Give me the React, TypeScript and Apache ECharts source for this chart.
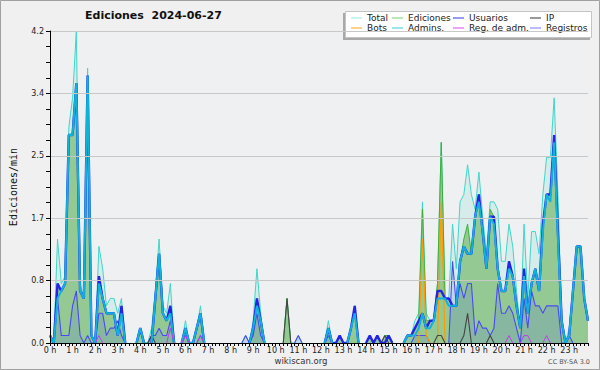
import React, { useEffect, useRef } from "react";
import * as echarts from "echarts";

const HOURS = [
  "0 h", "1 h", "2 h", "3 h", "4 h", "5 h", "6 h", "7 h", "8 h", "9 h", "10 h", "11 h",
  "12 h", "13 h", "14 h", "15 h", "16 h", "17 h", "18 h", "19 h", "20 h", "21 h", "22 h", "23 h",
];
const MINUTES = ["", ":10", ":20", ":30", ":40", ":50"];
const Y_TICKS = [0, 0.84, 1.68, 2.52, 3.36, 4.2];

// 10-minute bins, edits per minute (6 values per hour)
const TOTAL = [
  0.1, 0, 1.4, 0.8, 0.9, 2.9,
  3.3, 4.2, 0.8, 0.6, 3.7, 0.1,
  0, 1.3, 1.0, 0.5, 0.6, 0.6,
  0.4, 0.6, 0, 0, 0, 0,
  0.2, 0, 0, 0.2, 0.7, 1.4,
  0.5, 0.4, 0.8, 0, 0, 0,
  0.3, 0, 0, 0.2, 0.5, 0,
  0, 0, 0, 0, 0, 0,
  0, 0, 0, 0, 0.1, 0,
  0.3, 1.0, 0.4, 0, 0, 0,
  0, 0, 0, 0.6, 0, 0,
  0.1, 0, 0, 0, 0, 0,
  0, 0, 0.3, 0, 0, 0.1,
  0, 0, 0.2, 0.5, 0, 0,
  0, 0.1, 0, 0.1, 0, 0.1,
  0.1, 0, 0, 0, 0, 0.1,
  0.1, 0.3, 0.4, 1.9, 0.4, 0.3,
  0.3, 0.8, 2.7, 0.6, 0.6, 1.6,
  1.0, 1.9, 2.0, 2.4, 2.0, 1.8,
  2.3, 1.7, 1.2, 1.9, 1.9, 1.8,
  1.1, 1.1, 1.6, 1.3, 0.7, 0.2,
  1.6, 0.6, 1.5, 1.5, 1.2, 2.0,
  2.5, 2.5, 3.3, 2.0, 0.3, 0,
  0.2, 0.7, 1.3, 1.3, 0.6, 0.3,
];

const EDICIONES = [
  0.1, 0, 0.8, 0.7, 0.8, 2.8,
  2.8, 3.5, 0.7, 0.6, 3.6, 0.1,
  0, 0.9, 0.6, 0.4, 0.4, 0.4,
  0.1, 0.5, 0, 0, 0, 0,
  0.2, 0, 0, 0.1, 0.6, 1.2,
  0.4, 0.3, 0.5, 0, 0, 0,
  0.2, 0, 0, 0.2, 0.4, 0,
  0, 0, 0, 0, 0, 0,
  0, 0, 0, 0, 0, 0,
  0.2, 0.6, 0.3, 0, 0, 0,
  0, 0, 0, 0.6, 0, 0,
  0, 0, 0, 0, 0, 0,
  0, 0, 0.2, 0, 0, 0.1,
  0, 0, 0.2, 0.5, 0, 0,
  0, 0.1, 0, 0.1, 0, 0.1,
  0.1, 0, 0, 0, 0, 0.1,
  0.1, 0.2, 0.3, 1.8, 0.3, 0.3,
  0.3, 0.8, 2.7, 0.6, 0.6, 0.5,
  0.5, 1.1, 1.4, 1.6, 1.2, 1.7,
  2.0, 1.5, 1.0, 1.8, 1.7, 1.0,
  0.7, 0.7, 1.1, 0.9, 0.5, 0.2,
  1.0, 0.4, 0.8, 1.0, 0.7, 1.6,
  2.0, 2.0, 2.8, 1.5, 0.3, 0,
  0.1, 0.7, 1.3, 1.3, 0.6, 0.3,
];

const USUARIOS = [
  0.1, 0, 0.8, 0.7, 0.8, 2.8,
  2.8, 3.5, 0.7, 0.6, 3.6, 0.1,
  0, 0.9, 0.6, 0.4, 0.4, 0.4,
  0.1, 0.5, 0, 0, 0, 0,
  0.2, 0, 0, 0, 0.6, 1.2,
  0.4, 0.3, 0.5, 0, 0, 0,
  0.2, 0, 0, 0.2, 0.4, 0,
  0, 0, 0, 0, 0, 0,
  0, 0, 0, 0, 0, 0,
  0.2, 0.6, 0.3, 0, 0, 0,
  0, 0, 0, 0, 0, 0,
  0, 0, 0, 0, 0, 0,
  0, 0, 0.2, 0, 0, 0.1,
  0, 0, 0.2, 0.5, 0, 0,
  0, 0.1, 0, 0.1, 0, 0,
  0.1, 0, 0, 0, 0, 0.1,
  0.1, 0.2, 0.3, 0.4, 0.2, 0.3,
  0.3, 0.7, 0.7, 0.6, 0.6, 0.5,
  0.5, 1.1, 1.3, 1.2, 1.2, 1.7,
  2.0, 1.5, 1.0, 1.7, 1.7, 1.0,
  0.7, 0.7, 1.1, 0.9, 0.5, 0.2,
  1.0, 0.4, 0.8, 1.0, 0.7, 1.6,
  2.0, 2.0, 2.8, 1.5, 0.3, 0,
  0.1, 0.7, 1.3, 1.3, 0.6, 0.3,
];

const ADMINS = [
  0.1, 0, 0.6, 0.7, 0.8, 2.8,
  2.8, 3.5, 0.7, 0.6, 3.6, 0.1,
  0, 0.8, 0.6, 0.4, 0.4, 0.4,
  0.1, 0.4, 0, 0, 0, 0,
  0.2, 0, 0, 0, 0.6, 1.2,
  0.4, 0.3, 0.4, 0, 0, 0,
  0.2, 0, 0, 0.2, 0.4, 0,
  0, 0, 0, 0, 0, 0,
  0, 0, 0, 0, 0, 0,
  0.2, 0.5, 0.3, 0, 0, 0,
  0, 0, 0, 0, 0, 0,
  0, 0, 0, 0, 0, 0,
  0, 0, 0.2, 0, 0, 0,
  0, 0, 0.2, 0.4, 0, 0,
  0, 0, 0, 0, 0, 0,
  0, 0, 0, 0, 0, 0.1,
  0.1, 0.1, 0.2, 0.4, 0.2, 0.2,
  0.3, 0.6, 0.6, 0.6, 0.5, 0.5,
  0.5, 1.1, 1.3, 1.2, 1.2, 1.7,
  1.9, 1.5, 1.0, 1.7, 1.6, 1.0,
  0.7, 0.7, 1.0, 0.9, 0.5, 0.2,
  0.9, 0.4, 0.8, 1.0, 0.7, 1.5,
  2.0, 1.9, 2.7, 1.4, 0.3, 0,
  0.1, 0.7, 1.3, 1.3, 0.6, 0.3,
];

const REGISTROS = [
  0, 0, 0.6, 0.1, 0.1, 0.1,
  0.5, 0.7, 0.1, 0, 0.1, 0,
  0, 0.4, 0.4, 0.1, 0.2, 0.2,
  0.3, 0.1, 0, 0, 0, 0,
  0, 0, 0, 0.1, 0.1, 0.2,
  0.1, 0.1, 0.3, 0, 0, 0,
  0.1, 0, 0, 0, 0.1, 0,
  0, 0, 0, 0, 0, 0,
  0, 0, 0, 0, 0.1, 0,
  0.1, 0.4, 0.1, 0, 0, 0,
  0, 0, 0, 0, 0, 0,
  0.1, 0, 0, 0, 0, 0,
  0, 0, 0.1, 0, 0, 0,
  0, 0, 0, 0, 0, 0,
  0, 0, 0, 0, 0, 0,
  0, 0, 0, 0, 0, 0,
  0, 0.1, 0.1, 0.1, 0.1, 0,
  0, 0, 0, 0, 0, 1.1,
  0.5, 0.8, 0.6, 0.8, 0.8, 0.1,
  0.3, 0.2, 0.2, 0.1, 0.2, 0.8,
  0.4, 0.4, 0.5, 0.4, 0.2, 0,
  0.6, 0.2, 0.7, 0.5, 0.5, 0.4,
  0.5, 0.5, 0.5, 0.5, 0, 0,
  0.1, 0, 0, 0, 0, 0,
];

const IP = [
  0, 0, 0, 0, 0, 0,
  0, 0, 0, 0, 0, 0,
  0, 0, 0, 0, 0, 0,
  0, 0, 0, 0, 0, 0,
  0, 0, 0, 0.1, 0, 0,
  0, 0, 0, 0, 0, 0,
  0, 0, 0, 0, 0, 0,
  0, 0, 0, 0, 0, 0,
  0, 0, 0, 0, 0, 0,
  0, 0, 0, 0, 0, 0,
  0, 0, 0, 0.6, 0, 0,
  0, 0, 0, 0, 0, 0,
  0, 0, 0, 0, 0, 0,
  0, 0, 0, 0, 0, 0,
  0, 0, 0, 0, 0, 0.1,
  0, 0, 0, 0, 0, 0,
  0, 0, 0, 0, 0, 0,
  0, 0.1, 0.1, 0, 0, 0,
  0, 0, 0.1, 0.4, 0, 0,
  0, 0, 0, 0.1, 0, 0,
  0, 0, 0, 0, 0, 0,
  0, 0, 0, 0, 0, 0,
  0, 0, 0, 0, 0, 0,
  0, 0, 0, 0, 0, 0,
];

const BOTS = [
  0, 0, 0, 0, 0, 0,
  0, 0, 0, 0, 0, 0,
  0, 0, 0, 0, 0, 0,
  0, 0, 0, 0, 0, 0,
  0, 0, 0, 0, 0, 0,
  0, 0, 0, 0, 0, 0,
  0, 0, 0, 0, 0, 0,
  0, 0, 0, 0, 0, 0,
  0, 0, 0, 0, 0, 0,
  0, 0, 0, 0, 0, 0,
  0, 0, 0, 0, 0, 0,
  0, 0, 0, 0, 0, 0,
  0, 0, 0, 0, 0, 0,
  0, 0, 0, 0, 0, 0,
  0, 0, 0, 0, 0, 0,
  0, 0, 0, 0, 0, 0,
  0, 0, 0, 1.4, 0.1, 0,
  0, 0, 1.9, 0, 0, 0,
  0, 0, 0, 0, 0, 0,
  0, 0, 0, 0, 0, 0,
  0, 0, 0, 0, 0, 0,
  0, 0, 0, 0, 0, 0,
  0, 0, 0, 0, 0, 0,
  0, 0, 0, 0, 0, 0,
];

const REG_ADM = [
  0, 0, 0, 0, 0, 0,
  0, 0, 0, 0, 0, 0,
  0, 0.1, 0, 0, 0, 0,
  0, 0, 0, 0, 0, 0,
  0, 0, 0, 0, 0, 0,
  0, 0, 0.2, 0, 0, 0,
  0.1, 0, 0, 0, 0.1, 0,
  0, 0, 0, 0, 0, 0,
  0, 0, 0, 0, 0, 0,
  0, 0, 0, 0, 0, 0,
  0, 0, 0, 0, 0, 0,
  0, 0, 0, 0, 0, 0,
  0, 0, 0, 0, 0, 0,
  0, 0, 0, 0, 0, 0,
  0, 0, 0, 0, 0, 0,
  0, 0, 0, 0, 0, 0,
  0, 0, 0, 0, 0, 0,
  0, 0, 0, 0, 0, 0,
  0, 0, 0, 0, 0, 0,
  0, 0, 0, 0, 0, 0,
  0, 0, 0.1, 0, 0, 0,
  0.1, 0.1, 0, 0, 0, 0,
  0.1, 0, 0, 0, 0, 0,
  0, 0, 0, 0, 0, 0,
];

const CATEGORIES = HOURS.flatMap((h, k) => MINUTES.map((m) => (m === "" ? h : `${k}${m}`)));

// hide long runs of zeros (they would only paint over the axis line)
const thin = (arr: number[]) =>
  arr.map((v, i) =>
    v === 0 && (arr[i - 1] ?? 0) === 0 && (arr[i + 1] ?? 0) === 0 ? null : v
  );

const FONT = "DejaVu Sans";

const LEGEND_POS: { name: string; left: number; top: number; color: string }[] = [
  { name: "Total", left: 351, top: 13.5, color: "#8fe6e0" },
  { name: "Ediciones", left: 392, top: 13.5, color: "#77d077" },
  { name: "Usuarios", left: 453, top: 13.5, color: "#3333ee" },
  { name: "IP", left: 530, top: 13.5, color: "#333333" },
  { name: "Bots", left: 351, top: 23.5, color: "#ffa31a" },
  { name: "Admins.", left: 392, top: 23.5, color: "#33c8dd" },
  { name: "Reg. de adm.", left: 453, top: 23.5, color: "#dd44ee" },
  { name: "Registros", left: 530, top: 23.5, color: "#7777ff" },
];

export default function App() {
  const ref = useRef<HTMLDivElement>(null);

  useEffect(() => {
    if (!ref.current) return;
    const chart = echarts.init(ref.current, undefined, { renderer: "svg" });

    const lineSeries = (
      name: string,
      data: number[],
      color: string,
      width: number,
      extra: any = {}
    ) => ({
      name,
      type: "line",
      data: thin(data),
      symbol: "none",
      smooth: false,
      connectNulls: false,
      lineStyle: { color, width },
      itemStyle: { color },
      emphasis: { disabled: true },
      ...extra,
    });

    const legendIconColor: Record<string, string> = {};
    LEGEND_POS.forEach((l) => (legendIconColor[l.name] = l.color));

    const option: any = {
      animation: false,
      backgroundColor: "#f0f0f0",
      title: {
        text: "Ediciones  2024-06-27",
        left: 85,
        top: 10,
        padding: 0,
        textStyle: { fontFamily: FONT, fontWeight: "bold", fontSize: 11, color: "#111" },
      },
      legend: LEGEND_POS.map((l) => ({
        data: [{ name: l.name, itemStyle: { color: l.color } }],
        left: l.left,
        top: l.top,
        padding: 0,
        icon: "rect",
        itemWidth: 11,
        itemHeight: 1,
        itemGap: 0,
        selectedMode: false,
        textStyle: { fontFamily: FONT, fontSize: 9, color: "#222", padding: [0, 0, 0, 0] },
      })),
      grid: {
        left: 46.5,
        right: 12,
        top: 31,
        bottom: 27,
        show: true,
        backgroundColor: "#eef0f1",
        borderWidth: 0,
      },
      xAxis: {
        type: "category",
        data: CATEGORIES,
        boundaryGap: false,
        z: 10,
        axisLine: { lineStyle: { color: "#000", width: 1 } },
        axisTick: { show: true, interval: 0, length: 3, lineStyle: { color: "#000" } },
        axisLabel: {
          interval: 5,
          margin: 3,
          fontFamily: FONT,
          fontSize: 8,
          color: "#222",
        },
        splitLine: { show: false },
      },
      yAxis: {
        type: "value",
        min: 0,
        max: 4.2,
        interval: 0.84,
        z: 10,
        name: "Ediciones/min",
        nameLocation: "middle",
        nameRotate: 90,
        nameGap: 32,
        nameTextStyle: { fontFamily: "DejaVu Sans Mono", fontSize: 10, color: "#111" },
        axisLine: { show: true, lineStyle: { color: "#000", width: 1 } },
        axisTick: { show: true, length: 4, lineStyle: { color: "#000" } },
        minorTick: { show: true, splitNumber: 4, length: 4, lineStyle: { color: "#000" } },
        axisLabel: {
          margin: 6,
          fontFamily: FONT,
          fontSize: 8,
          color: "#222",
          formatter: (v: number) => {
            const match = Y_TICKS.find((t) => Math.abs(t - v) < 1e-6);
            return (match ?? v).toFixed(1);
          },
        },
        splitLine: { show: true, lineStyle: { color: "#c8c8c8", width: 1 } },
      },
      series: [
        lineSeries("Total", TOTAL, "#3fd6c8", 1, {
          areaStyle: { color: "rgba(70,215,195,0.14)", opacity: 1 },
          itemStyle: { color: legendIconColor["Total"] },
          z: 1,
        }),
        lineSeries("Ediciones", EDICIONES, "#3cb03c", 1, {
          areaStyle: { color: "#94c994", opacity: 1 },
          itemStyle: { color: legendIconColor["Ediciones"] },
          z: 2,
        }),
        lineSeries("Registros", REGISTROS, "#4a4af2", 1.1, {
          areaStyle: { color: "rgba(70,95,230,0.16)", opacity: 1 },
          itemStyle: { color: legendIconColor["Registros"] },
          z: 3,
        }),
        lineSeries("Bots", BOTS, "#ff9a00", 1.2, { z: 4, itemStyle: { color: legendIconColor["Bots"] } }),
        lineSeries("IP", IP, "#444444", 1.1, { z: 4, itemStyle: { color: legendIconColor["IP"] } }),
        lineSeries("Usuarios", USUARIOS, "#2424e6", 2.4, { z: 5, itemStyle: { color: legendIconColor["Usuarios"] } }),
        lineSeries("Admins.", ADMINS, "#10b2dc", 2, { z: 6, itemStyle: { color: legendIconColor["Admins."] } }),
        lineSeries("Reg. de adm.", REG_ADM, "#c23fe6", 1, { z: 7, itemStyle: { color: legendIconColor["Reg. de adm."] } }),
      ],
      graphic: [
        {
          type: "rect",
          silent: true,
          z: -10,
          shape: { x: 0.5, y: 0.5, width: 599, height: 369 },
          style: { fill: "none", stroke: "#a0a0a0", lineWidth: 1 },
        },
        {
          type: "rect",
          silent: true,
          z: 0,
          shape: { x: 343, y: 13, width: 247, height: 27 },
          style: { fill: "#a8a8a8" },
        },
        {
          type: "rect",
          silent: true,
          z: 0,
          shape: { x: 345.5, y: 11.5, width: 246, height: 26 },
          style: { fill: "#ffffff", stroke: "#c4c4c4", lineWidth: 1 },
        },
        {
          type: "text",
          silent: true,
          x: 301,
          y: 361,
          style: {
            text: "wikiscan.org",
            fontFamily: FONT,
            fontSize: 8.5,
            fill: "#333",
            align: "center",
            verticalAlign: "middle",
          },
        },
        {
          type: "text",
          silent: true,
          x: 590,
          y: 362,
          style: {
            text: "CC BY-SA 3.0",
            fontFamily: FONT,
            fontSize: 6.5,
            fill: "#555",
            align: "right",
            verticalAlign: "middle",
          },
        },
      ],
    };

    chart.setOption(option);
    return () => chart.dispose();
  }, []);

  return (
    <div
      ref={ref}
      style={{ position: "absolute", left: 0, top: 0, width: 600, height: 370 }}
    />
  );
}
